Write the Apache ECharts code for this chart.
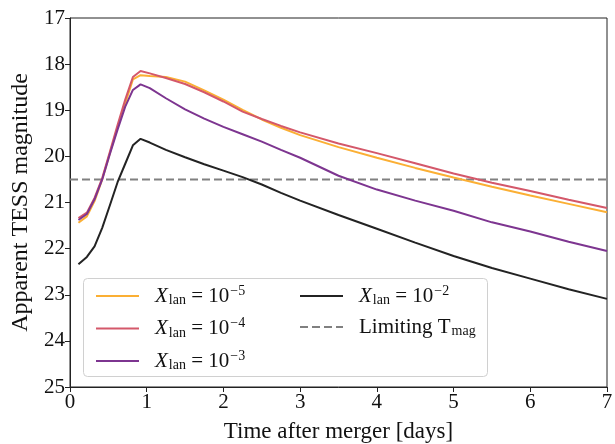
<!DOCTYPE html>
<html>
<head>
<meta charset="utf-8">
<script src="https://cdn.jsdelivr.net/npm/echarts@6/dist/echarts.min.js"></script>
<style>html,body{margin:0;padding:0;background:#fff}#c{width:615px;height:444px}</style>
</head>
<body>
<div id="c"></div>
<script>
// Time after merger [days]
const times = [0.11,0.22,0.32,0.42,0.52,0.62,0.72,0.82,0.92,1.04,1.25,1.5,1.75,2.0,2.25,2.5,2.75,3.0,3.5,4.0,4.5,5.0,5.5,6.0,6.5,7.0];
// Apparent TESS magnitude for each lanthanide fraction
const magX5 = [21.44,21.30,20.97,20.50,19.93,19.37,18.85,18.33,18.24,18.26,18.28,18.38,18.57,18.77,18.99,19.20,19.38,19.54,19.80,20.03,20.25,20.46,20.66,20.85,21.03,21.21];
const magX4 = [21.34,21.22,20.90,20.47,19.90,19.32,18.77,18.28,18.15,18.20,18.30,18.43,18.61,18.81,19.03,19.19,19.34,19.48,19.72,19.93,20.15,20.37,20.57,20.75,20.94,21.12];
const magX3 = [21.38,21.25,20.93,20.50,19.95,19.42,18.92,18.56,18.44,18.52,18.74,18.98,19.18,19.36,19.52,19.68,19.86,20.03,20.42,20.72,20.96,21.18,21.43,21.63,21.85,22.05];
const magX2 = [22.34,22.18,21.95,21.55,21.06,20.56,20.16,19.76,19.62,19.70,19.86,20.02,20.17,20.31,20.45,20.61,20.79,20.96,21.27,21.57,21.87,22.16,22.42,22.65,22.88,23.09];
const limitX = [0, 7];
const limitMag = 20.5;
const seriesNames = ['X_lan = 10^-5','X_lan = 10^-4','X_lan = 10^-3','X_lan = 10^-2'];
const limitName = 'Limiting T_mag';
const yTicks = [17,18,19,20,21,22,23,24,25];
const xTicks = [0,1,2,3,4,5,6,7];

const colors = ['#FBAF34','#D4586A','#7D3590','#232323'];
const FONT = 'Liberation Serif';
const zip = (xs, ys) => xs.map((x, i) => [x, ys[i]]);
const mags = [magX5, magX4, magX3, magX2];

const rich = {
  i: {fontFamily: FONT, fontStyle: 'italic', fontSize: 21, color: '#111'},
  r: {fontFamily: FONT, fontSize: 21, color: '#111'},
  sub: {fontFamily: FONT, fontSize: 14, color: '#111', padding: [9,0,0,1]},
  sup: {fontFamily: FONT, fontSize: 14, color: '#111', padding: [0,0,10,1]}
};
function fmt(name) {
  if (name === limitName) return '{r|Limiting T}{sub|mag}';
  const exp = name.split('^')[1].replace('-', '\u2212');
  return '{i|X}{sub|lan}{r| = 10}{sup|' + exp + '}';
}

const series = mags.map((m, k) => ({
  name: seriesNames[k], type: 'line', data: zip(times, m),
  showSymbol: false, symbol: 'none', color: colors[k],
  lineStyle: {width: 2, color: colors[k]}, z: 5 + k
}));
series.push({
  name: limitName, type: 'line', data: zip(limitX, limitX.map(() => limitMag)),
  showSymbol: false, symbol: 'none', color: '#808080',
  lineStyle: {width: 2, color: '#808080', type: [8, 4]}, z: 4
});

const legendCommon = {
  orient: 'vertical', itemWidth: 43, itemHeight: 14, itemGap: 9,
  formatter: fmt, textStyle: {rich: rich, padding: [0,0,0,11]},
  itemStyle: {opacity: 0, borderWidth: 0},
  z: 20, selectedMode: false
};

const chart = echarts.init(document.getElementById('c'), null, {renderer: 'canvas'});
chart.setOption({
  animation: false,
  backgroundColor: '#fff',
  grid: {left: 70, right: 8, top: 18, bottom: 57, show: true, borderColor: '#222', borderWidth: 1, containLabel: false, outerBoundsMode: 'none'},
  xAxis: {
    type: 'value', min: xTicks[0], max: xTicks[xTicks.length-1], interval: 1,
    name: 'Time after merger [days]', nameLocation: 'middle', nameGap: 33,
    nameTextStyle: {fontFamily: FONT, fontSize: 23, color: '#111'},
    axisLine: {show: true, lineStyle: {color: '#222', width: 1}},
    axisTick: {show: true, inside: false, length: 5, lineStyle: {color: '#222'}},
    axisLabel: {fontFamily: FONT, fontSize: 21, color: '#111', margin: 5},
    splitLine: {show: false}
  },
  yAxis: {
    type: 'value', inverse: true, min: yTicks[0], max: yTicks[yTicks.length-1], interval: 1,
    name: 'Apparent TESS magnitude', nameLocation: 'middle', nameGap: 28,
    nameTextStyle: {fontFamily: FONT, fontSize: 24, color: '#111'},
    axisLine: {show: true, lineStyle: {color: '#222', width: 1}},
    axisTick: {show: true, inside: false, length: 5, lineStyle: {color: '#222'}},
    axisLabel: {fontFamily: FONT, fontSize: 21, color: '#111', margin: 5},
    splitLine: {show: false}
  },
  legend: [
    Object.assign({}, legendCommon, {data: seriesNames.slice(0,3), left: 90, top: 279}),
    Object.assign({}, legendCommon, {data: [seriesNames[3], limitName], left: 294, top: 279})
  ],
  graphic: [{
    type: 'rect', z: 15, shape: {x: 83.5, y: 278.5, width: 404, height: 98, r: 4},
    style: {fill: 'rgba(255,255,255,0.85)', stroke: '#d0d0d0', lineWidth: 1}
  }],
  series: series
});
</script>
</body>
</html>
